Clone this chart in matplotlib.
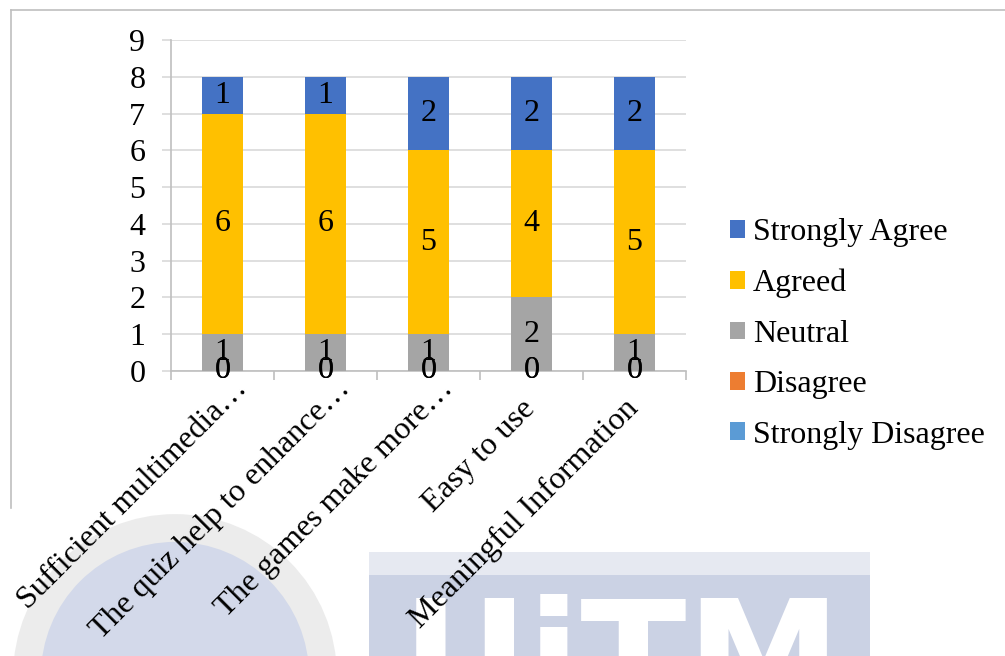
import matplotlib
matplotlib.use('Agg')
import matplotlib.pyplot as plt
import matplotlib.transforms as mtrans
import numpy as np
from matplotlib.patches import Ellipse, Rectangle
from matplotlib.lines import Line2D

# plot settings
plt.rcParams['font.family'] = ['Liberation Serif', 'DejaVu Serif']
plt.rcParams['font.size'] = 23

### data ###
categories = ['Sufficient multimedia\u2026', 'The quiz help to enhance\u2026',
              'The games make more\u2026', 'Easy to use', 'Meaningful Information']
strongly_disagree = [0, 0, 0, 0, 0]
disagree          = [0, 0, 0, 0, 0]
neutral           = [1, 1, 1, 2, 1]
agreed            = [6, 6, 5, 4, 5]
strongly_agree    = [1, 1, 2, 2, 2]

series_names  = ['Strongly Disagree', 'Disagree', 'Neutral', 'Agreed', 'Strongly Agree']
series_vals   = [strongly_disagree, disagree, neutral, agreed, strongly_agree]
series_colors = ['#5B9BD5', '#ED7D31', '#A5A5A5', '#FFC000', '#4472C4']

W, H = 1005, 656
fig = plt.figure(figsize=(W/100, H/100), dpi=100)

def px(x, y):
    # pixel coords (from top-left) -> figure fraction
    return x / W, 1 - y / H

# faint scanned watermark behind the chart
fig.add_artist(Ellipse(px(175, 676), 2*148/W, 2*148/H, transform=fig.transFigure,
                       fc='#D3D9EA', ec='#ECECEC', lw=20, zorder=-2))
x0, y0 = px(369, 656)
fig.add_artist(Rectangle((x0, y0), 501/W, 104/H, transform=fig.transFigure,
                         fc='#CBD2E4', ec='none', zorder=-2))
x0, y0 = px(369, 575)
fig.add_artist(Rectangle((x0, y0), 501/W, 23/H, transform=fig.transFigure,
                         fc='#E6E9F1', ec='none', zorder=-2))
fig.text(*px(622, 594), 'UiTM', transform=fig.transFigure, fontsize=112,
         fontweight='bold', color='white', ha='center', va='top',
         family='DejaVu Sans', zorder=-1)

# chart border (cut off on the right and bottom)
fig.add_artist(Line2D([px(11, 10)[0], 1.0], [px(11, 10)[1]] * 2,
                      transform=fig.transFigure, color='#BFBFBF', lw=1.2))
fig.add_artist(Line2D([px(11, 10)[0]] * 2, [px(11, 10)[1], px(11, 508)[1]],
                      transform=fig.transFigure, color='#BFBFBF', lw=1.2))

l, t = px(171, 40)
r, b = px(686, 371)
ax = fig.add_axes([l, b, r - l, t - b])
ax.patch.set_alpha(0)

x = np.arange(len(categories))
bottom = np.zeros(len(categories))
handles = []
for name, vals, col in zip(series_names, series_vals, series_colors):
    bars = ax.bar(x, vals, 0.4, bottom=bottom, color=col, label=name, zorder=3)
    ax.bar_label(bars, labels=[str(v) for v in vals], label_type='center',
                 fontsize=23, zorder=4)
    bottom += np.array(vals)
    handles.append(bars)

ax.set_xlim(-0.5, len(categories) - 0.5)
ax.set_ylim(0, 9)
ax.set_yticks(range(0, 10))
ax.yaxis.grid(True, color='#D9D9D9', lw=1.2, zorder=0)
ax.set_axisbelow(True)

for s in ['top', 'right']:
    ax.spines[s].set_visible(False)
for s in ['left', 'bottom']:
    ax.spines[s].set_color('#BFBFBF')
    ax.spines[s].set_linewidth(1.2)

ax.tick_params(axis='y', length=6.5, color='#D9D9D9', width=1.2, pad=12, labelsize=23)
ax.set_xticks(x)
ax.set_xticks(np.arange(-0.5, len(categories)), minor=True)
ax.tick_params(axis='x', which='major', length=0, pad=0)
ax.tick_params(axis='x', which='minor', length=6.5, color='#BFBFBF', width=1.2)
ax.set_xticklabels(categories, rotation=45, ha='right', va='baseline',
                   rotation_mode='anchor', fontsize=23)
# Excel places the truncated labels a little further along the diagonal
for lab in ax.get_xticklabels():
    if lab.get_text().endswith('\u2026'):
        dx, dy = 26, -19
    else:
        dx, dy = 5, -39
    off = mtrans.ScaledTranslation(dx / 100, dy / 100, fig.dpi_scale_trans)
    lab.set_transform(lab.get_transform() + off)

fig.legend(handles[::-1], series_names[::-1], loc='center left',
           bbox_to_anchor=px(730, 334), frameon=False, fontsize=23,
           borderpad=0, borderaxespad=0,
           handlelength=0.47, handleheight=0.47, handletextpad=0.25,
           labelspacing=0.67)

fig.savefig('out.png', dpi=100)
